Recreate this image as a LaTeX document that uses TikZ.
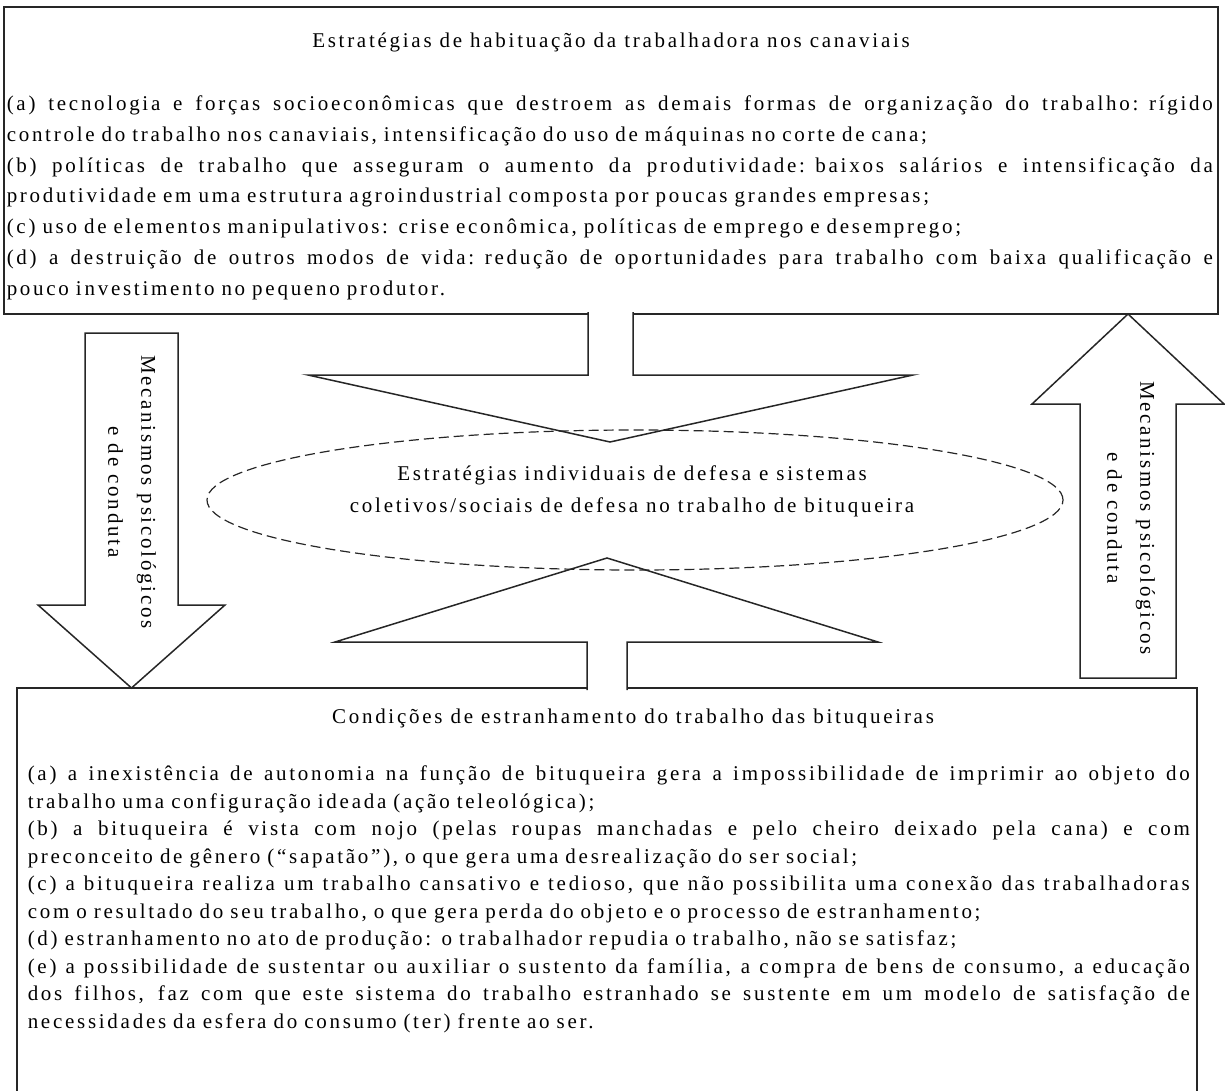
\documentclass[tikz,border=0pt]{standalone}
\usepackage{fontspec}
\setmainfont{Liberation Serif}[LetterSpace=13]
\usetikzlibrary{shapes.geometric}

\newcommand{\jl}[1]{{\spaceskip=0.25em plus 2em\relax\makebox[\linewidth][s]{#1}}}

\begin{document}
\begin{tikzpicture}[x=1pt,y=-1pt,line width=1.5pt,
    caixa/.style={draw=black!85},
    seta/.style={draw=black!85,fill=white,line join=miter},
    texto/.style={inner sep=0pt,anchor=north west,align=left,font=\fontsize{21}{#1}\selectfont},
    titulo/.style={inner sep=0pt,font=\fontsize{21}{24}\selectfont},
    lateral/.style={inner sep=0pt,rotate=-90,align=center,font=\fontsize{21}{33}\selectfont}]
  \useasboundingbox (0,0) rectangle (1225,1091);

  % caixas
  \draw[caixa] (4,7) rectangle (1218,314);
  \draw[caixa] (17,1100) -- (17,688) -- (1197,688) -- (1197,1100);

  % setas laterais
  \draw[seta] (85,333) -- (178,333) -- (178,605) -- (225,605) -- (131.5,688)
    -- (38,605) -- (85,605) -- cycle;
  \draw[seta] (1080,678) -- (1080,404) -- (1032,404) -- (1128,314) -- (1224,404)
    -- (1176,404) -- (1176,678) -- cycle;

  % setas centrais
  \path[seta] (588,312) -- (588,375) -- (308,375) -- (610,442) -- (913,375)
    -- (633,375) -- (633,312);
  \path[seta] (587,690) -- (587,642) -- (335,642) -- (607,558) -- (878,642)
    -- (627,642) -- (627,690);

  \node[draw=black!85,dashed,ellipse,line width=1.2pt,dash pattern=on 10pt off 5pt,
    minimum width=856,minimum height=140] (defesa) at (635,500) {};

  \node[titulo] (titulo1) at (611,42) {Estratégias de habituação da trabalhadora nos canaviais};
  \node[texto=30.75,text width=1206] (corpo1) at (6,95) {%
    \jl{(a) tecnologia e forças socioeconômicas que destroem as demais formas de organização do trabalho: rígido}\\
    controle do trabalho nos canaviais, intensificação do uso de máquinas no corte de cana;\\
    \jl{(b) políticas de trabalho que asseguram o aumento da produtividade: baixos salários e intensificação da}\\
    produtividade em uma estrutura agroindustrial composta por poucas grandes empresas;\\
    (c) uso de elementos manipulativos: crise econômica, políticas de emprego e desemprego;\\
    \jl{(d) a destruição de outros modos de vida: redução de oportunidades para trabalho com baixa qualificação e}\\
    pouco investimento no pequeno produtor.};

  \node[titulo,align=center,font=\fontsize{21}{32}\selectfont] (defesatxt) at (632,491)
    {Estratégias individuais de defesa e sistemas\\coletivos/sociais de defesa no trabalho de bituqueira};

  \node[lateral] (mec1) at (132,492) {Mecanismos psicológicos\\e de conduta};
  \node[lateral] (mec2) at (1131,518) {Mecanismos psicológicos\\e de conduta};

  \node[titulo] (titulo2) at (633,718) {Condições de estranhamento do trabalho das bituqueiras};
  \node[texto=27.5,text width=1162] (corpo2) at (27,765) {%
    \jl{(a) a inexistência de autonomia na função de bituqueira gera a impossibilidade de imprimir ao objeto do}\\
    trabalho uma configuração ideada (ação teleológica);\\
    \jl{(b) a bituqueira é vista com nojo (pelas roupas manchadas e pelo cheiro deixado pela cana) e com}\\
    preconceito de gênero (“sapatão”), o que gera uma desrealização do ser social;\\
    \jl{(c) a bituqueira realiza um trabalho cansativo e tedioso, que não possibilita uma conexão das trabalhadoras}\\
    com o resultado do seu trabalho, o que gera perda do objeto e o processo de estranhamento;\\
    (d) estranhamento no ato de produção: o trabalhador repudia o trabalho, não se satisfaz;\\
    \jl{(e) a possibilidade de sustentar ou auxiliar o sustento da família, a compra de bens de consumo, a educação}\\
    \jl{dos filhos, faz com que este sistema do trabalho estranhado se sustente em um modelo de satisfação de}\\
    necessidades da esfera do consumo (ter) frente ao ser.};
\end{tikzpicture}
\end{document}
